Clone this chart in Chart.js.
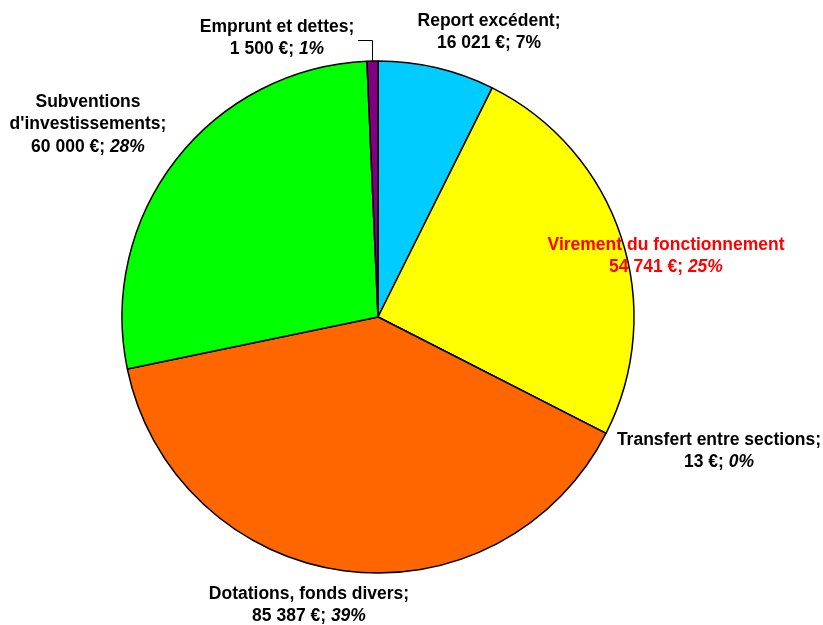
<!DOCTYPE html>
<html>
<head>
<meta charset="utf-8">
<script src="https://cdn.jsdelivr.net/npm/chart.js@4"></script>
<style>
    body { margin: 0; background: #fff; }
    #wrap { width: 823px; height: 625px; }
</style>
</head>
<body>
<div id="wrap"><canvas id="myChart" width="823" height="625"></canvas></div>
<script>
// slices clockwise from 12 o'clock
var labels = ['Report excédent', 'Virement du fonctionnement', 'Transfert entre sections',
    'Dotations, fonds divers', 'Subventions d\'investissements', 'Emprunt et dettes'];
var values = [16021, 54741, 13, 85387, 60000, 1500];
var colors = ['#00CCFF', '#FFFF00', '#FF6600', '#FF6600', '#00FF00', '#800080'];

// label text lines (the value line is added by the plugin)
var labelLines = [
    ['Report excédent;'],
    ['Virement du fonctionnement'],
    ['Transfert entre sections;'],
    ['Dotations, fonds divers;'],
    ['Subventions', 'd\'investissements;'],
    ['Emprunt et dettes;']
];
// where each label block goes (center x, first line y)
var labelPos = [[489, 21], [666, 245], [719, 440], [309, 594], [88, 102], [277, 27]];
var labelColor = ['#000', '#FF0000', '#000', '#000', '#000', '#000'];
var italicPct = [false, true, true, true, true, true];

var total = values.reduce(function (a, b) { return a + b; }, 0);

function fmt(v) {
    return v.toString().replace(/\B(?=(\d{3})+(?!\d))/g, ' ');
}

var labelPlugin = {
    id: 'pieLabels',
    afterDatasetsDraw: function (chart) {
        var ctx = chart.ctx;
        var arcs = chart.getDatasetMeta(0).data;
        ctx.save();
        ctx.textBaseline = 'middle';
        var lh = 22.5;
        var bold = 'bold 17.5px "Liberation Sans", Arial, sans-serif';
        var boldIt = 'italic bold 17.5px "Liberation Sans", Arial, sans-serif';

        for (var i = 0; i < values.length; i++) {
            var x = labelPos[i][0], y = labelPos[i][1];
            ctx.fillStyle = labelColor[i];
            ctx.font = bold;
            ctx.textAlign = 'center';
            var lines = labelLines[i];
            for (var j = 0; j < lines.length; j++) {
                ctx.fillText(lines[j], x, y + j * lh);
            }
            // value line: "16 021 €; 7%"
            var yv = y + lines.length * lh;
            var part1 = fmt(values[i]) + ' €; ';
            var part2 = Math.round(values[i] / total * 100) + '%';
            ctx.font = bold;
            var w1 = ctx.measureText(part1).width;
            ctx.font = italicPct[i] ? boldIt : bold;
            var w2 = ctx.measureText(part2).width;
            var sx = x - (w1 + w2) / 2;
            ctx.textAlign = 'left';
            ctx.font = bold;
            ctx.fillText(part1, sx, yv);
            ctx.font = italicPct[i] ? boldIt : bold;
            ctx.fillText(part2, sx + w1, yv);
        }

        // leader line for the small "Emprunt" slice
        var a = arcs[5];
        var mid = (a.startAngle + a.endAngle) / 2;
        var px = a.x + Math.cos(mid) * a.outerRadius;
        var py = a.y + Math.sin(mid) * a.outerRadius;
        ctx.strokeStyle = '#000';
        ctx.lineWidth = 1;
        ctx.beginPath();
        ctx.moveTo(358, 40.5);
        ctx.lineTo(Math.round(px) + 0.5, 40.5);
        ctx.lineTo(Math.round(px) + 0.5, py);
        ctx.stroke();
        ctx.restore();
    }
};

const ctx = document.getElementById('myChart');

new Chart(ctx, {
    type: 'pie',
    data: {
        labels: labels,
        datasets: [{
                data: values,
                backgroundColor: colors,
                borderColor: '#000',
                borderWidth: 1.5
            }]
    },
    options: {
        responsive: false,
        animation: false,
        radius: 256,
        layout: {
            padding: {left: 122, right: 189, top: 61, bottom: 52}
        },
        plugins: {
            legend: {display: false},
            tooltip: {enabled: false}
        }
    },
    plugins: [labelPlugin]
});
</script>
</body>
</html>
